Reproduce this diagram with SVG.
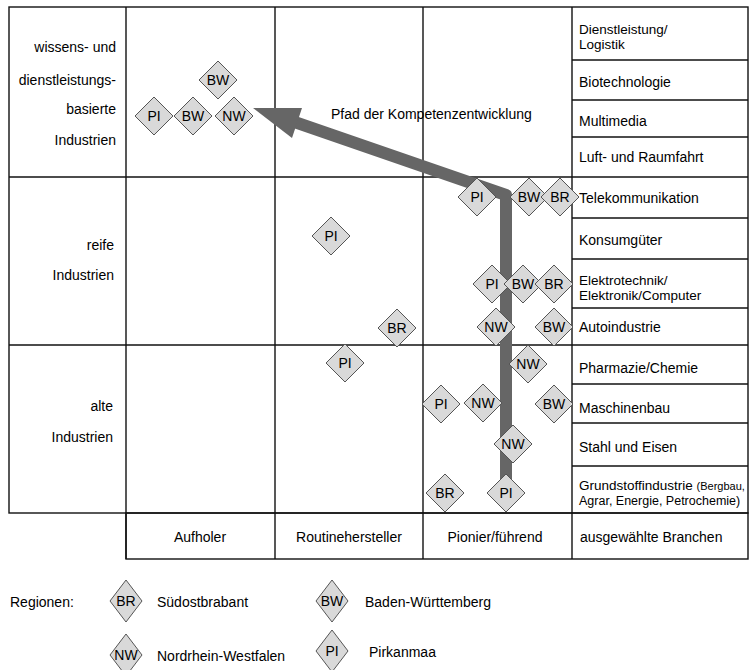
<svg xmlns="http://www.w3.org/2000/svg" xmlns:xlink="http://www.w3.org/1999/xlink" width="749" height="670" viewBox="0 0 749 670">
<defs>
<style>
text{font-family:"Liberation Sans",Arial,sans-serif;font-size:14px;fill:#000}
.grid line,.grid rect{stroke:#111;stroke-width:1.4;fill:none}
.dia{fill:#d9d9d9;stroke:#555;stroke-width:1}
.lbl{text-anchor:middle}
.end{text-anchor:end}
.two{font-size:13.5px}
.arrow{fill:none;stroke:#666;stroke-width:12;stroke-linejoin:round}
</style>
<polygon id="d" class="dia" points="0,-19 19,0 0,19 -19,0"/>
<polygon id="dl" class="dia" points="0,-21 16,0 0,21 -16,0"/>
</defs>
<rect width="749" height="670" fill="#fff"/>
<g id="grid" class="grid">
<rect x="9" y="7" width="739" height="506"/>
<line x1="126" y1="7" x2="126" y2="559"/>
<line x1="275" y1="7" x2="275" y2="559"/>
<line x1="423" y1="7" x2="423" y2="559"/>
<line x1="572" y1="7" x2="572" y2="559"/>
<line x1="9" y1="177" x2="748" y2="177"/>
<line x1="9" y1="345" x2="748" y2="345"/>
<line x1="572" y1="60" x2="748" y2="60"/>
<line x1="572" y1="100" x2="748" y2="100"/>
<line x1="572" y1="137" x2="748" y2="137"/>
<line x1="572" y1="218" x2="748" y2="218"/>
<line x1="572" y1="259" x2="748" y2="259"/>
<line x1="572" y1="308" x2="748" y2="308"/>
<line x1="572" y1="384" x2="748" y2="384"/>
<line x1="572" y1="423" x2="748" y2="423"/>
<line x1="572" y1="466" x2="748" y2="466"/>
<rect x="126" y="513" width="622" height="46"/>
</g>
<g id="row-labels">
<text class="end" x="116" y="52">wissens- und</text>
<text class="end" x="116" y="85">dienstleistungs-</text>
<text class="end" x="116" y="114">basierte</text>
<text class="end" x="116" y="145">Industrien</text>
<text class="end" x="114" y="250">reife</text>
<text class="end" x="114" y="280">Industrien</text>
<text class="end" x="113" y="411">alte</text>
<text class="end" x="113" y="442">Industrien</text>
</g>
<g id="branchen">
<text class="two" x="579" y="34">Dienstleistung/</text>
<text class="two" x="579" y="49.3">Logistik</text>
<text x="579" y="87">Biotechnologie</text>
<text x="579" y="126">Multimedia</text>
<text x="579" y="162">Luft- und Raumfahrt</text>
<text x="579" y="203">Telekommunikation</text>
<text x="579" y="245">Konsumgüter</text>
<text class="two" x="579" y="285">Elektrotechnik/</text>
<text class="two" x="579" y="300.3">Elektronik/Computer</text>
<text x="579" y="332">Autoindustrie</text>
<text x="579" y="373">Pharmazie/Chemie</text>
<text x="579" y="413">Maschinenbau</text>
<text x="579" y="452">Stahl und Eisen</text>
<text class="two" x="579" y="490">Grundstoffindustrie <tspan style="font-size:11px">(Bergbau,</tspan></text>
<text x="579" y="505.3" style="font-size:12.5px">Agrar, Energie, Petrochemie)</text>
</g>
<g id="column-labels">
<text class="lbl" x="200" y="542">Aufholer</text>
<text class="lbl" x="349" y="542">Routinehersteller</text>
<text class="lbl" x="495" y="542">Pionier/führend</text>
<text x="580" y="542">ausgewählte Branchen</text>
</g>
<g id="connectors">
<polyline class="arrow" points="506,482 506,195 296,122.5"/>
<polygon fill="#666" points="253,108 302,108 292,138"/>
<text x="331" y="119">Pfad der Kompetenzentwicklung</text>
</g>
<g id="n1" transform="translate(218,80)"><use xlink:href="#d"/><text class="lbl" y="5">BW</text></g>
<g id="n2" transform="translate(154,116)"><use xlink:href="#d"/><text class="lbl" y="5">PI</text></g>
<g id="n3" transform="translate(193,116)"><use xlink:href="#d"/><text class="lbl" y="5">BW</text></g>
<g id="n4" transform="translate(234,116)"><use xlink:href="#d"/><text class="lbl" y="5">NW</text></g>
<g id="n5" transform="translate(477,197)"><use xlink:href="#d"/><text class="lbl" y="5">PI</text></g>
<g id="n6" transform="translate(529,197)"><use xlink:href="#d"/><text class="lbl" y="5">BW</text></g>
<g id="n7" transform="translate(560,197)"><use xlink:href="#d"/><text class="lbl" y="5">BR</text></g>
<g id="n8" transform="translate(331,236)"><use xlink:href="#d"/><text class="lbl" y="5">PI</text></g>
<g id="n9" transform="translate(492,284)"><use xlink:href="#d"/><text class="lbl" y="5">PI</text></g>
<g id="n10" transform="translate(523,284)"><use xlink:href="#d"/><text class="lbl" y="5">BW</text></g>
<g id="n11" transform="translate(554,284)"><use xlink:href="#d"/><text class="lbl" y="5">BR</text></g>
<g id="n12" transform="translate(397,328)"><use xlink:href="#d"/><text class="lbl" y="5">BR</text></g>
<g id="n13" transform="translate(496,327)"><use xlink:href="#d"/><text class="lbl" y="5">NW</text></g>
<g id="n14" transform="translate(554,327)"><use xlink:href="#d"/><text class="lbl" y="5">BW</text></g>
<g id="n15" transform="translate(345,363)"><use xlink:href="#d"/><text class="lbl" y="5">PI</text></g>
<g id="n16" transform="translate(528,364)"><use xlink:href="#d"/><text class="lbl" y="5">NW</text></g>
<g id="n17" transform="translate(441,404)"><use xlink:href="#d"/><text class="lbl" y="5">PI</text></g>
<g id="n18" transform="translate(483,403)"><use xlink:href="#d"/><text class="lbl" y="5">NW</text></g>
<g id="n19" transform="translate(554,404)"><use xlink:href="#d"/><text class="lbl" y="5">BW</text></g>
<g id="n20" transform="translate(513,444)"><use xlink:href="#d"/><text class="lbl" y="5">NW</text></g>
<g id="n21" transform="translate(445,493)"><use xlink:href="#d"/><text class="lbl" y="5">BR</text></g>
<g id="n22" transform="translate(506,493)"><use xlink:href="#d"/><text class="lbl" y="5">PI</text></g>
<g id="legend">
<text x="10" y="607">Regionen:</text>
<g id="leg-br" transform="translate(126,601)"><use xlink:href="#dl"/><text class="lbl" y="5">BR</text></g>
<text x="157" y="607">Südostbrabant</text>
<g id="leg-bw" transform="translate(332,601)"><use xlink:href="#dl"/><text class="lbl" y="5">BW</text></g>
<text x="365" y="607">Baden-Württemberg</text>
<g id="leg-nw" transform="translate(126,655)"><use xlink:href="#dl"/><text class="lbl" y="5">NW</text></g>
<text x="157" y="661">Nordrhein-Westfalen</text>
<g id="leg-pi" transform="translate(332,651)"><use xlink:href="#dl"/><text class="lbl" y="5">PI</text></g>
<text x="369" y="657">Pirkanmaa</text>
</g>
</svg>
